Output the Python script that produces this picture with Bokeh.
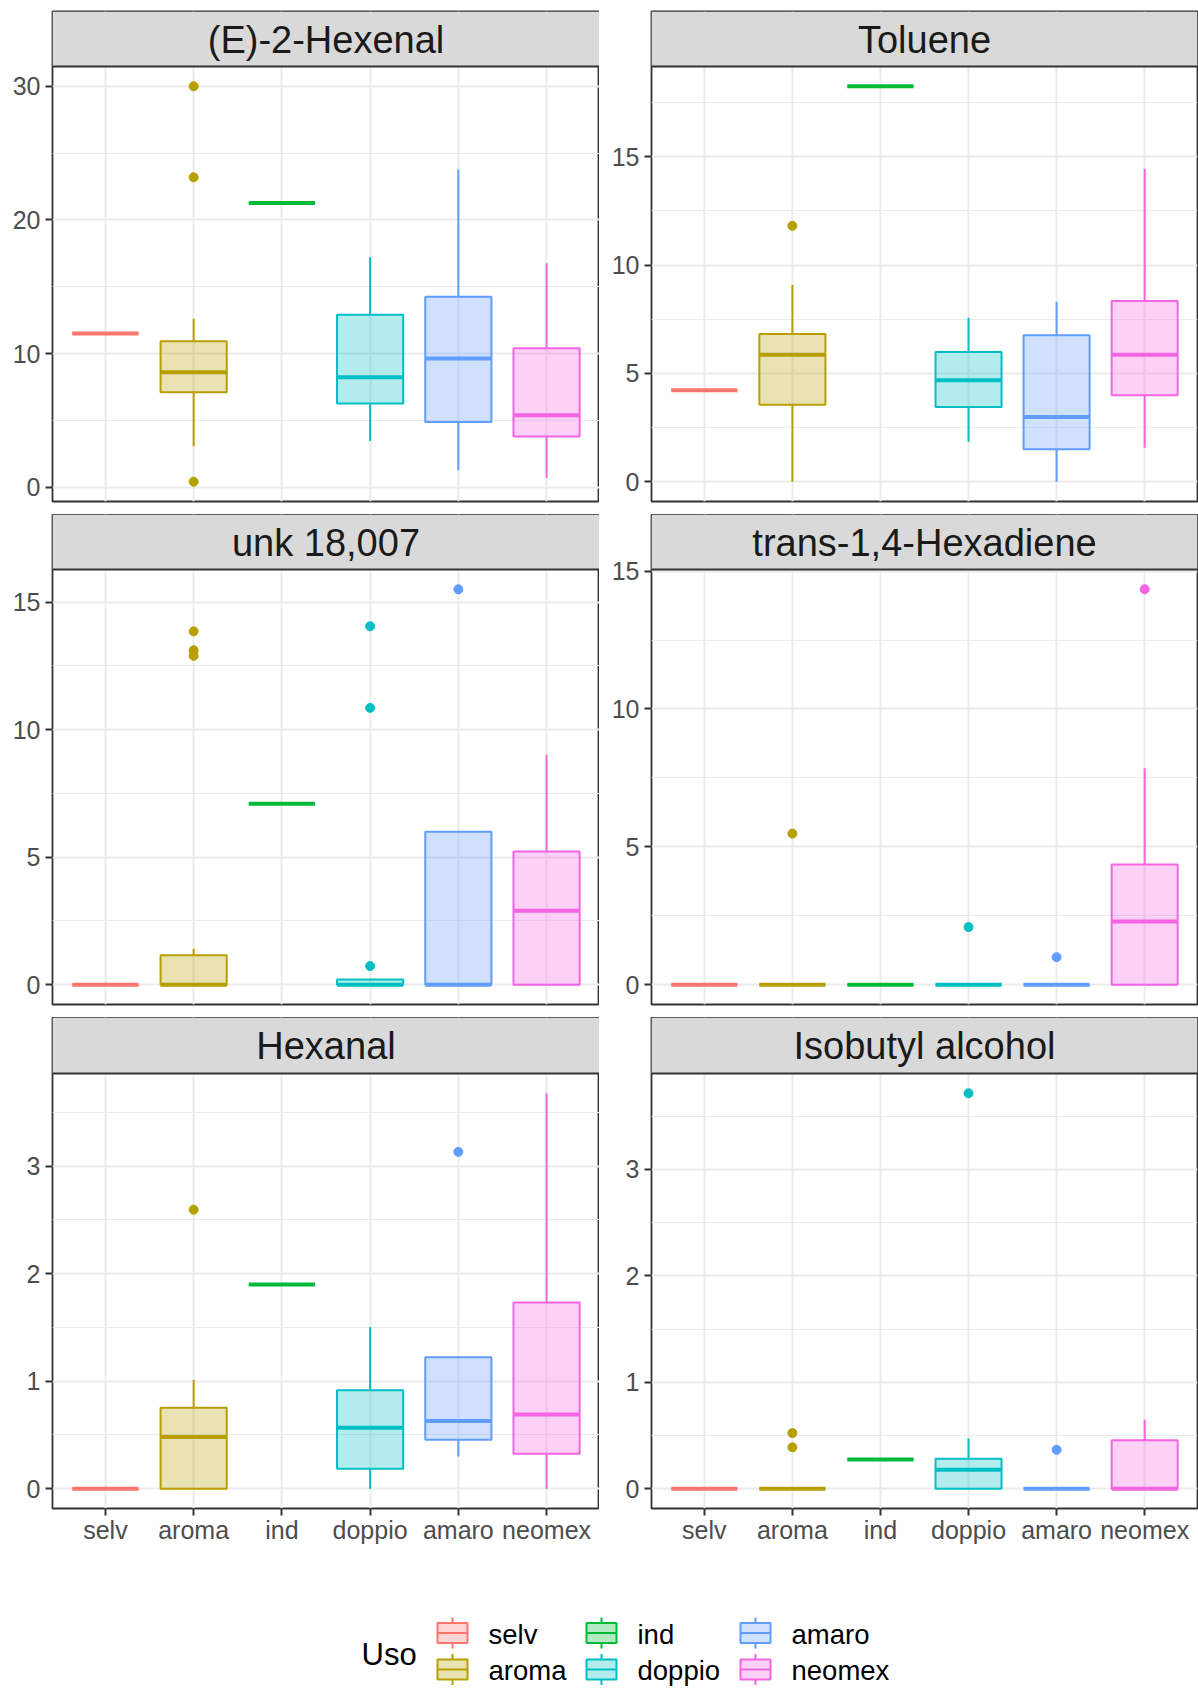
from bokeh.plotting import figure
from bokeh.models import Range1d, FixedTicker
from bokeh.layouts import column, row
from bokeh.embed import file_html
from bokeh.resources import INLINE
from bokeh.core.properties import value

# ---------------- data ----------------
categories = ["selv", "aroma", "ind", "doppio", "amaro", "neomex"]
colors = ["#F8766D", "#B79F00", "#00BA38", "#00BFC4", "#619CFF", "#F564E3"]
legend_title = "Uso"

compounds = ["(E)-2-Hexenal", "Toluene", "unk 18,007",
             "trans-1,4-Hexadiene", "Hexanal", "Isobutyl alcohol"]

# (E)-2-Hexenal
hexenal_lower = [11.5, 3.08, 21.27, 3.46, 1.27, 0.72]
hexenal_q1 = [11.5, 7.11, 21.27, 6.27, 4.88, 3.81]
hexenal_med = [11.5, 8.6, 21.27, 8.23, 9.63, 5.4]
hexenal_q3 = [11.5, 10.92, 21.27, 12.91, 14.25, 10.4]
hexenal_upper = [11.5, 12.61, 21.27, 17.21, 23.78, 16.77]
hexenal_out = [[], [30.0, 23.19, 0.42], [], [], [], []]
hexenal_ticks = [0, 10, 20, 30]
hexenal_minor = [5, 15, 25]

# Toluene
toluene_lower = [4.22, 0.0, 18.25, 1.85, 0.0, 1.57]
toluene_q1 = [4.22, 3.55, 18.25, 3.45, 1.5, 3.99]
toluene_med = [4.22, 5.86, 18.25, 4.68, 2.99, 5.86]
toluene_q3 = [4.22, 6.82, 18.25, 5.99, 6.76, 8.34]
toluene_upper = [4.22, 9.08, 18.25, 7.57, 8.31, 14.43]
toluene_out = [[], [11.81], [], [], [], []]
toluene_ticks = [0, 5, 10, 15]
toluene_minor = [2.5, 7.5, 12.5, 17.5]

# unk 18,007
unk_lower = [0, 0, 7.09, 0, 0, 0]
unk_q1 = [0, 0, 7.09, 0, 0, 0]
unk_med = [0, 0, 7.09, 0, 0, 2.9]
unk_q3 = [0, 1.16, 7.09, 0.2, 6.0, 5.22]
unk_upper = [0, 1.41, 7.09, 0.2, 6.0, 9.01]
unk_out = [[], [13.85, 13.11, 12.89], [], [14.05, 10.85, 0.73], [15.5], []]
unk_ticks = [0, 5, 10, 15]
unk_minor = [2.5, 7.5, 12.5]

# trans-1,4-Hexadiene
hexadiene_lower = [0, 0, 0, 0, 0, 0]
hexadiene_q1 = [0, 0, 0, 0, 0, 0]
hexadiene_med = [0, 0, 0, 0, 0, 2.29]
hexadiene_q3 = [0, 0, 0, 0, 0, 4.36]
hexadiene_upper = [0, 0, 0, 0, 0, 7.85]
hexadiene_out = [[], [5.48], [], [2.09], [1.0], [14.34]]
hexadiene_ticks = [0, 5, 10, 15]
hexadiene_minor = [2.5, 7.5, 12.5]

# Hexanal
hexanal_lower = [0, 0, 1.90, 0, 0.299, 0]
hexanal_q1 = [0, 0, 1.90, 0.186, 0.455, 0.326]
hexanal_med = [0, 0.482, 1.90, 0.568, 0.631, 0.691]
hexanal_q3 = [0, 0.754, 1.90, 0.917, 1.223, 1.731]
hexanal_upper = [0, 1.013, 1.90, 1.502, 1.223, 3.678]
hexanal_out = [[], [2.595], [], [], [3.133], []]
hexanal_ticks = [0, 1, 2, 3]
hexanal_minor = [0.5, 1.5, 2.5, 3.5]

# Isobutyl alcohol
isobutyl_lower = [0, 0, 0.275, 0, 0, 0]
isobutyl_q1 = [0, 0, 0.275, 0, 0, 0]
isobutyl_med = [0, 0, 0.275, 0.178, 0, 0]
isobutyl_q3 = [0, 0, 0.275, 0.282, 0, 0.456]
isobutyl_upper = [0, 0, 0.275, 0.473, 0, 0.648]
isobutyl_out = [[], [0.523, 0.389], [], [3.715], [0.366], []]
isobutyl_ticks = [0, 1, 2, 3]
isobutyl_minor = [0.5, 1.5, 2.5, 3.5]

panels = [
    (hexenal_lower, hexenal_q1, hexenal_med, hexenal_q3, hexenal_upper, hexenal_out, hexenal_ticks, hexenal_minor),
    (toluene_lower, toluene_q1, toluene_med, toluene_q3, toluene_upper, toluene_out, toluene_ticks, toluene_minor),
    (unk_lower, unk_q1, unk_med, unk_q3, unk_upper, unk_out, unk_ticks, unk_minor),
    (hexadiene_lower, hexadiene_q1, hexadiene_med, hexadiene_q3, hexadiene_upper, hexadiene_out, hexadiene_ticks, hexadiene_minor),
    (hexanal_lower, hexanal_q1, hexanal_med, hexanal_q3, hexanal_upper, hexanal_out, hexanal_ticks, hexanal_minor),
    (isobutyl_lower, isobutyl_q1, isobutyl_med, isobutyl_q3, isobutyl_upper, isobutyl_out, isobutyl_ticks, isobutyl_minor),
]

# ---------------- style / layout ----------------
FONT = "Liberation Sans"
FRAME_H = 435                # data area height of each panel
COL_FW = [547, 546]          # frame widths left / right column
COL_MBL = [52, 52]           # left borders
COL_MBR = [0, 1]
STRIP_H = [55, 55, 56]       # facet strip heights per row
ROW_TOP = [11, 0, 0]
STRIP_TEXT_FROM_TOP = 28.7
PANEL_BOTTOM = [13, 13, 42]
BOX_HALF = 0.375
X_LO, X_HI = 0.4, len(categories) + 0.6


def make_panel(idx, col, r, show_x):
    lower, q1, med, q3, upper, outs, ticks, minor = panels[idx]
    allv = list(lower) + list(upper) + [v for o in outs for v in o]
    lo, hi = min(allv), max(allv)
    span = hi - lo
    ylo, yhi = lo - 0.05 * span, hi + 0.05 * span
    dpp = (yhi - ylo) / FRAME_H           # data units per pixel
    sh = STRIP_H[r]
    ytop = yhi + sh * dpp                 # strip sits above the data area
    p = figure(frame_width=COL_FW[col], frame_height=FRAME_H + sh, output_backend="svg",
               toolbar_location=None, tools="",
               x_range=Range1d(X_LO, X_HI), y_range=Range1d(ylo, ytop),
               min_border=0, min_border_left=COL_MBL[col], min_border_right=COL_MBR[col],
               min_border_top=ROW_TOP[r], min_border_bottom=PANEL_BOTTOM[r])
    xs = list(range(1, len(categories) + 1))

    p.outline_line_color = "#333333"
    p.outline_line_width = 1.8
    p.background_fill_color = "white"

    p.xgrid.ticker = FixedTicker(ticks=xs)
    p.ygrid.ticker = FixedTicker(ticks=ticks, minor_ticks=minor)
    p.grid.grid_line_color = "#EBEBEB"
    p.grid.grid_line_width = 2
    p.ygrid.minor_grid_line_color = "#EBEBEB"
    p.ygrid.minor_grid_line_width = 1

    p.yaxis.ticker = FixedTicker(ticks=ticks)
    p.xaxis.ticker = FixedTicker(ticks=xs)
    p.xaxis.major_label_overrides = {x: c for x, c in zip(xs, categories)}
    for ax in (p.xaxis, p.yaxis):
        ax.axis_line_color = None
        ax.major_tick_in = 0
        ax.major_tick_out = 7
        ax.major_tick_line_color = "#333333"
        ax.major_tick_line_width = 2
        ax.minor_tick_line_color = None
        ax.major_label_text_font = FONT
        ax.major_label_text_font_size = "25px"
        ax.major_label_text_color = "#4D4D4D"
    p.yaxis.major_label_standoff = 5
    p.xaxis.major_label_standoff = 0
    p.xaxis.visible = show_x

    # whiskers
    p.segment(x0=xs, x1=xs, y0=q3, y1=upper, line_color=colors, line_width=2)
    p.segment(x0=xs, x1=xs, y0=q1, y1=lower, line_color=colors, line_width=2)
    # boxes
    p.quad(left=[x - BOX_HALF for x in xs], right=[x + BOX_HALF for x in xs],
           bottom=q1, top=q3, fill_color=colors, fill_alpha=0.3,
           line_color=colors, line_width=2)
    # medians
    p.segment(x0=[x - BOX_HALF for x in xs], x1=[x + BOX_HALF for x in xs],
              y0=med, y1=med, line_color=colors, line_width=4)
    # outliers
    ox, oy, oc = [], [], []
    for x, o, c in zip(xs, outs, colors):
        for v in o:
            ox.append(x)
            oy.append(v)
            oc.append(c)
    if ox:
        p.scatter(x=ox, y=oy, marker="circle", size=9, fill_color=oc, line_color=oc)

    # facet strip
    p.quad(left=[X_LO], right=[X_HI], bottom=[yhi], top=[ytop],
           fill_color="#D9D9D9", line_color=None)
    p.segment(x0=[X_LO], x1=[X_HI], y0=[yhi], y1=[yhi], line_color="#333333", line_width=1.8)
    p.text(x=[(X_LO + X_HI) / 2], y=[ytop - STRIP_TEXT_FROM_TOP * dpp], text=[compounds[idx]],
           text_align="center", text_baseline="middle", text_font=value(FONT),
           text_font_size="38px", text_color="#1A1A1A")
    return p


rows = []
for r in range(3):
    rows.append(row(*[make_panel(2 * r + c, c, r, r == 2) for c in range(2)]))

# ---------------- legend ----------------
LEG_TOP, LEG_BOTTOM = 1550, 1688
leg = figure(frame_width=1198, frame_height=LEG_BOTTOM - LEG_TOP, output_backend="svg",
             toolbar_location=None, tools="", x_range=Range1d(0, 1198),
             y_range=Range1d(LEG_BOTTOM, LEG_TOP), min_border=0)
leg.axis.visible = False
leg.grid.visible = False
leg.outline_line_color = None

key_left = [437, 586, 740]
key_w = 30
row_center = [1632.5, 1669]
label_center = [1634, 1670]
box_half = 10
whisk_half = 15.5

kx0, kx1, kb, kt, km, kc, wx, wy0, wy1, lx, ly, lt = ([] for _ in range(12))
for i, (cat, c) in enumerate(zip(categories, colors)):
    colx = key_left[i // 2]
    rc = row_center[i % 2]
    kx0.append(colx)
    kx1.append(colx + key_w)
    kb.append(rc + box_half)
    kt.append(rc - box_half)
    km.append(rc)
    kc.append(c)
    wx.append(colx + key_w / 2)
    wy0.append(rc - whisk_half)
    wy1.append(rc + whisk_half)
    lx.append(colx + 51)
    ly.append(label_center[i % 2])
    lt.append(cat)

leg.segment(x0=wx, x1=wx, y0=wy0, y1=wy1, line_color=kc, line_width=2)
leg.quad(left=kx0, right=kx1, bottom=kb, top=kt, fill_color="white", line_color=None)
leg.quad(left=kx0, right=kx1, bottom=kb, top=kt, fill_color=kc, fill_alpha=0.3,
         line_color=kc, line_width=2)
leg.segment(x0=kx0, x1=kx1, y0=km, y1=km, line_color=kc, line_width=2)
leg.text(x=lx, y=ly, text=lt, text_align="left", text_baseline="middle",
         text_font=value(FONT), text_font_size="27.5px", text_color="black")
leg.text(x=[361], y=[1654], text=[legend_title], text_align="left", text_baseline="middle",
         text_font=value(FONT), text_font_size="31px", text_color="black")

layout = column(*rows, leg)
open("out.html", "w").write(file_html(layout, INLINE))
